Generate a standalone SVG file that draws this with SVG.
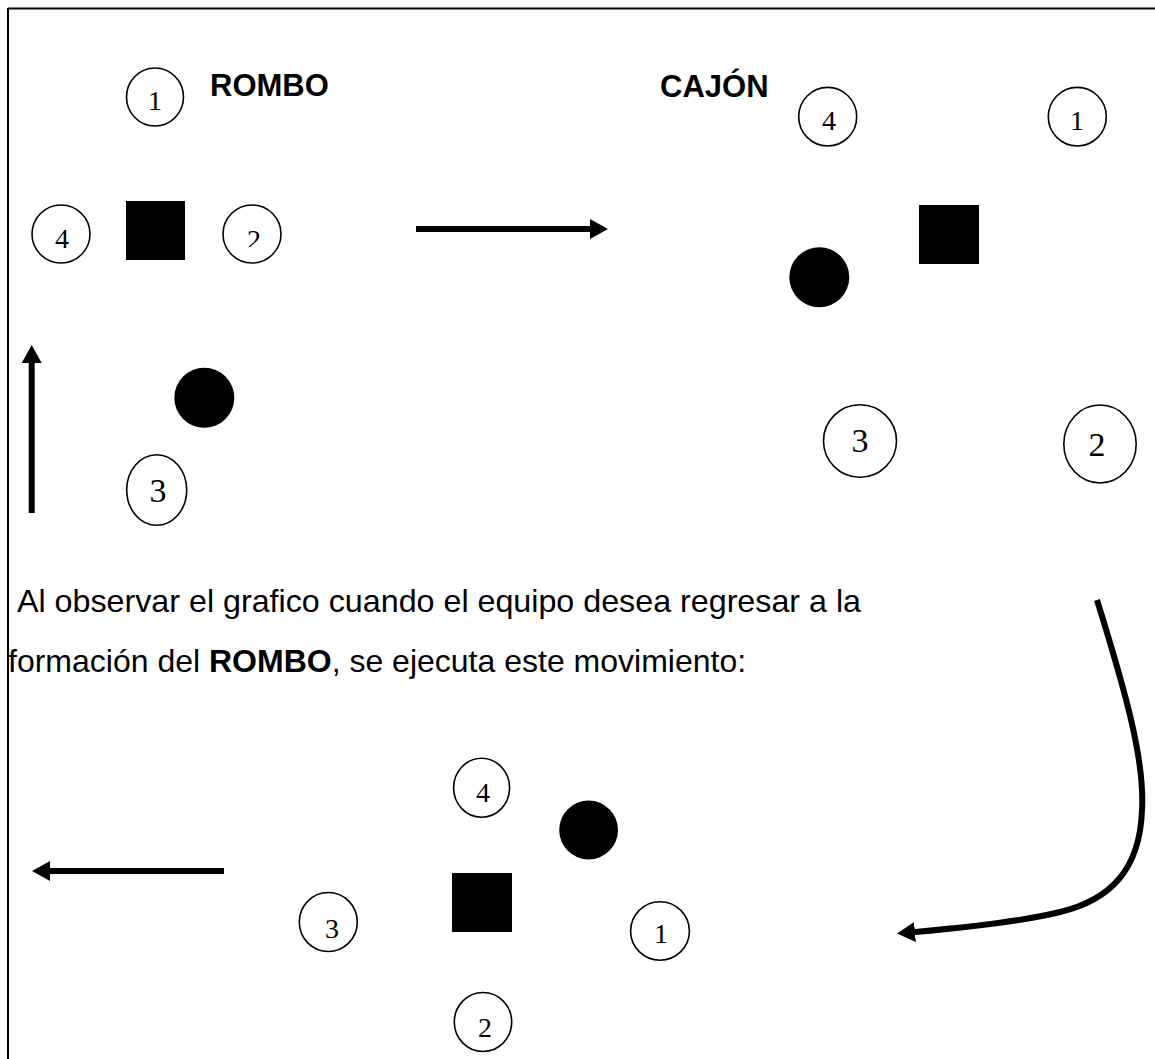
<svg xmlns="http://www.w3.org/2000/svg" width="1155" height="1059" viewBox="0 0 1155 1059">
<style>
.p{fill:#fff;stroke:#000;stroke-width:1.6}
.n{font-family:"Liberation Serif","Times New Roman",serif;font-size:28px;fill:#000;text-anchor:middle}
.nb{font-size:34px}
.t{font-family:"Liberation Sans",Arial,sans-serif;font-weight:bold;font-size:31px;fill:#000}
.body{font-family:"Liberation Sans",Arial,sans-serif;font-size:32px;fill:#000}
.k{fill:#000}
.c{fill:none;stroke:#000;stroke-width:6}
</style>
<defs>
<marker id="ah" viewBox="0 0 18 20" refX="0" refY="10" markerWidth="18" markerHeight="20" markerUnits="userSpaceOnUse" orient="auto">
<path d="M0,0 L18,10 L0,20 Z" fill="#000"/>
</marker>
<clipPath id="clip2"><rect x="230" y="200" width="50" height="47"/></clipPath>
</defs>
<rect width="1155" height="1059" fill="#fff"/>
<g id="border" stroke="#000" stroke-width="2">
<line x1="8" y1="8.5" x2="1155" y2="8.5"/>
<line x1="8" y1="8" x2="8" y2="1059"/>
</g>
<text class="t" x="210" y="96">ROMBO</text>
<text class="t" x="660" y="97">CAJÓN</text>
<!-- ROMBO top-left -->
<g id="r1"><ellipse class="p" cx="155" cy="97" rx="28.5" ry="29"/><text class="n" x="155" y="110">1</text></g>
<g id="r4"><ellipse class="p" cx="61" cy="234" rx="29" ry="29"/><text class="n" x="62" y="248">4</text></g>
<g id="rsq"><rect class="k" x="126" y="201" width="59" height="59"/></g>
<g id="r2"><ellipse class="p" cx="252" cy="234" rx="29" ry="29"/><text class="n" x="254" y="249" clip-path="url(#clip2)">2</text></g>
<g id="rball"><circle class="k" cx="204.3" cy="397.7" r="30"/></g>
<g id="r3"><ellipse class="p" cx="156.7" cy="490" rx="30" ry="35.3"/><text class="n nb" x="158" y="502">3</text></g>
<!-- CAJON top-right -->
<g id="c4"><ellipse class="p" cx="827.7" cy="116.7" rx="29" ry="29.3"/><text class="n" x="829" y="130">4</text></g>
<g id="c1"><ellipse class="p" cx="1077.3" cy="116.7" rx="29" ry="29.3"/><text class="n" x="1077" y="130">1</text></g>
<g id="csq"><rect class="k" x="919" y="205" width="60" height="59"/></g>
<g id="cball"><circle class="k" cx="819.3" cy="277.3" r="30"/></g>
<g id="c3"><ellipse class="p" cx="860" cy="441" rx="36.5" ry="36.2"/><text class="n nb" x="860" y="452">3</text></g>
<g id="c2"><ellipse class="p" cx="1100" cy="444" rx="36.2" ry="39"/><text class="n nb" x="1097" y="456">2</text></g>
<!-- paragraph -->
<text class="body" x="17" y="612" textLength="844" lengthAdjust="spacingAndGlyphs">Al observar el grafico cuando el equipo desea regresar a la</text>
<text class="body" x="8" y="672">formación del <tspan font-weight="bold">ROMBO</tspan>, se ejecuta este movimiento:</text>
<!-- bottom -->
<g id="b4"><ellipse class="p" cx="481.6" cy="787.8" rx="28" ry="29.5"/><text class="n" x="483" y="802">4</text></g>
<g id="bball"><circle class="k" cx="588.6" cy="830" r="29.4"/></g>
<g id="bsq"><rect class="k" x="452" y="873" width="60" height="59"/></g>
<g id="b3"><ellipse class="p" cx="328.3" cy="922" rx="29" ry="29.5"/><text class="n" x="332" y="938">3</text></g>
<g id="b1"><ellipse class="p" cx="660" cy="931" rx="29.4" ry="29.2"/><text class="n" x="661" y="943">1</text></g>
<g id="b2"><ellipse class="p" cx="483" cy="1022" rx="28.7" ry="29.5"/><text class="n" x="485" y="1037">2</text></g>
<!-- connectors -->
<g id="connectors">
<line class="c" x1="416" y1="229" x2="590" y2="229" marker-end="url(#ah)"/>
<line class="c" x1="31.7" y1="513" x2="31.7" y2="363" marker-end="url(#ah)"/>
<line class="c" x1="224" y1="871" x2="50" y2="871" marker-end="url(#ah)"/>
<path class="c" d="M1097,600 C1125,690 1145,760 1142,810 C1140,870 1110,900 1060,912 C1020,922 960,928 915,932" marker-end="url(#ah)"/>
</g>
</svg>
